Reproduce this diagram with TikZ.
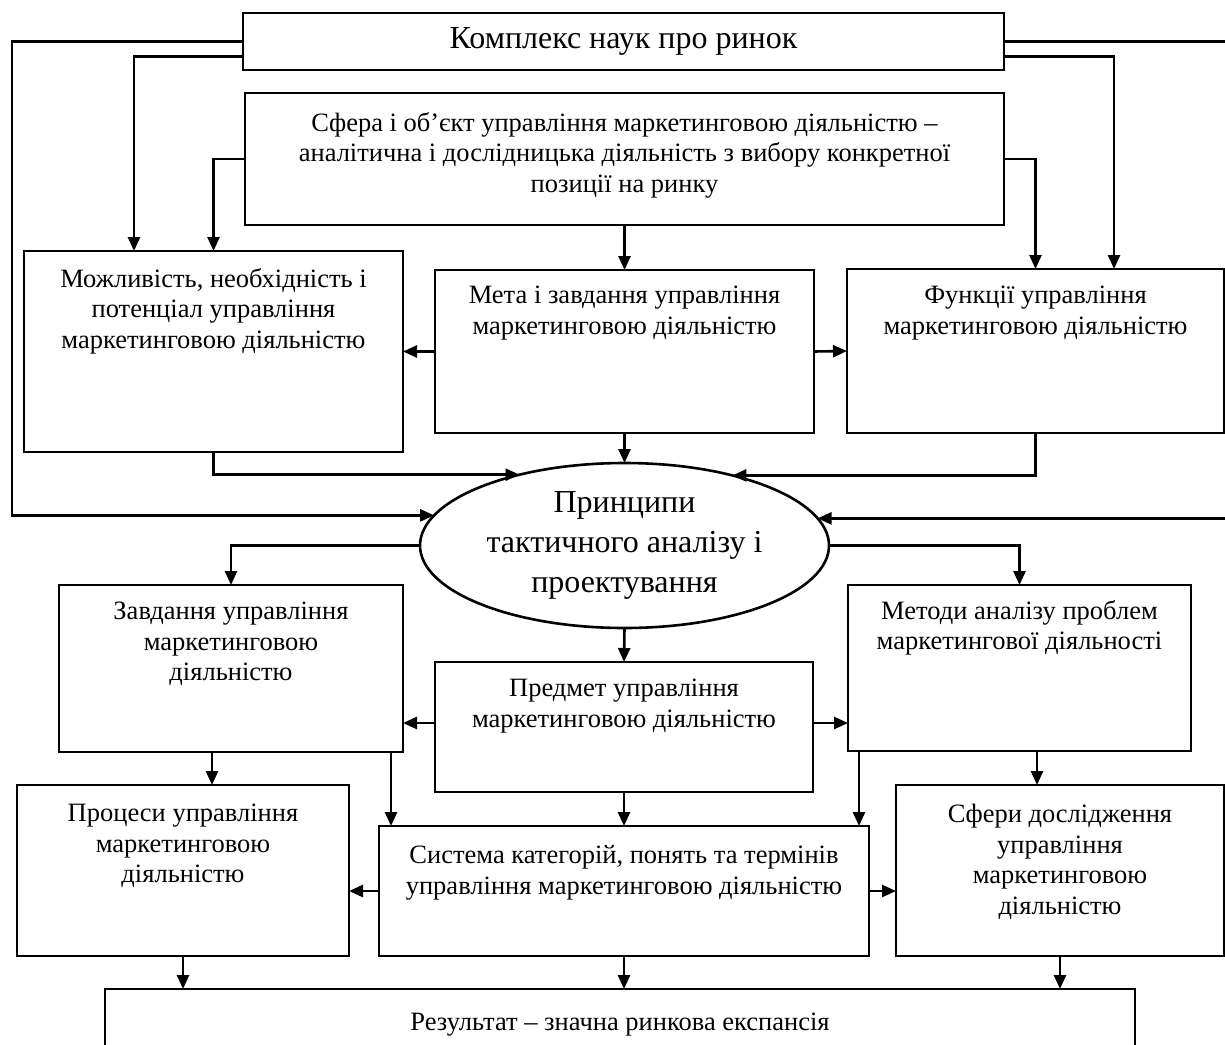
\documentclass[tikz,border=0pt]{standalone}
\usepackage{fontspec}
\setmainfont{Liberation Serif}
\usetikzlibrary{arrows.meta,shapes.geometric}
\begin{document}
\begin{tikzpicture}[x=1pt,y=-1pt,
  box/.style={draw, line width=2.6pt, inner sep=0pt, outer sep=0pt},
  txt/.style={align=center, inner sep=0pt, font=\fontsize{26.5}{30.5}\selectfont},
  con/.style={line width=2.6pt},
  arr/.style={line width=2.6pt, -{Triangle[length=14pt,width=12pt]}}]
\useasboundingbox (0,0) rectangle (1225,1044);
\clip (0,0) rectangle (1225,1044);
% boxes
\node[box, minimum width=761pt, minimum height=57pt, font=\fontsize{32}{37}\selectfont] (top) at (623.5,41.5) {Комплекс наук про ринок};
\node[box, minimum width=759pt, minimum height=132pt] (sfera) at (624.5,159) {};
\node[txt] (sferat) at (624.5,155) {Сфера і об’єкт управління маркетинговою діяльністю –\\аналітична і дослідницька діяльність з вибору конкретної\\позиції на ринку};
\node[box, minimum width=379pt, minimum height=201pt] (mozh) at (213.5,351.5) {};
\node[txt] (mozht) at (213.5,311) {Можливість, необхідність і\\потенціал управління\\маркетинговою діяльністю};
\node[box, minimum width=379pt, minimum height=163pt] (meta) at (624.5,351.5) {};
\node[txt] (metat) at (624.5,313) {Мета і завдання управління\\маркетинговою діяльністю};
\node[box, minimum width=377pt, minimum height=164pt] (funk) at (1035.5,351) {};
\node[txt] (funkt) at (1035.5,313) {Функції управління\\маркетинговою діяльністю};
\node[box, ellipse, minimum width=409pt, minimum height=165pt, align=center, font=\fontsize{32}{40}\selectfont] (ell) at (624.5,545.5) {Принципи\\тактичного аналізу і\\проектування};
\node[box, minimum width=344pt, minimum height=167pt] (zavd) at (231,668.5) {};
\node[txt] (zavdt) at (231,644) {Завдання управління\\маркетинговою\\діяльністю};
\node[box, minimum width=378pt, minimum height=130pt] (predm) at (624,727) {};
\node[txt] (predmt) at (624,706) {Предмет управління\\маркетинговою діяльністю};
\node[box, minimum width=343pt, minimum height=166pt] (metod) at (1019.5,668) {};
\node[txt] (metodt) at (1019.5,628) {Методи аналізу проблем\\маркетингової діяльності};
\node[box, minimum width=332pt, minimum height=171pt] (proc) at (183,870.5) {};
\node[txt] (proct) at (183,846) {Процеси управління\\маркетинговою\\діяльністю};
\node[box, minimum width=490pt, minimum height=130pt] (syst) at (624,891) {};
\node[txt] (systt) at (624,873) {Система категорій, понять та термінів\\управління маркетинговою діяльністю};
\node[box, minimum width=328pt, minimum height=171pt] (sfery) at (1060,870.5) {};
\node[txt] (sferyt) at (1060,862) {Сфери дослідження\\управління\\маркетинговою\\діяльністю};
\node[box, minimum width=1030pt, minimum height=82pt] (rez) at (620,1030) {};
\node[txt] (rezt) at (620,1025) {Результат – значна ринкова експансія};
% connectors
\draw[arr] (top.west) -- ++(-231,0) |- (ell.171.9);
\draw[arr] (top.east) -- ++(240,0) |- (ell.8.1);
\draw[arr] ([yshift=-15pt]top.west) -| ([xshift=-79.5pt]mozh.north);
\draw[arr] ([yshift=-15pt]top.east) -| ([xshift=78.5pt]funk.north);
\draw[arr] (sfera.west) -| (mozh.north);
\draw[arr] (sfera.east) -| (funk.north);
\draw[arr] (sfera.south) -- (meta.north);
\draw[arr] (meta.west) -- (mozh.east);
\draw[arr] (meta.east) -- (funk.west);
\draw[arr] (meta.south) -- (ell.north);
\draw[arr] (mozh.south) |- (ell.146.4);
\draw[arr] (funk.south) |- (ell.33.6);
\draw[arr] (ell.west) -| (zavd.north);
\draw[arr] (ell.east) -| (metod.north);
\draw[arr] (ell.south) -- (predm.north);
\draw[arr] ([yshift=4pt]predm.west) -- ([yshift=4pt]predm.west -| zavd.east);
\draw[arr] ([yshift=4pt]predm.east) -- ([yshift=4pt]predm.east -| metod.west);
\draw[arr] ([xshift=-19pt]zavd.south) -- ([xshift=-19pt]zavd.south |- proc.north);
\draw[arr] ([xshift=160pt]zavd.south) -- ([xshift=160pt]zavd.south |- syst.north);
\draw[arr] (predm.south) -- (syst.north);
\draw[arr] ([xshift=-160.5pt]metod.south) -- ([xshift=-160.5pt]metod.south |- syst.north);
\draw[arr] ([xshift=17.5pt]metod.south) -- ([xshift=17.5pt]metod.south |- sfery.north);
\draw[arr] (syst.west) -- (syst.west -| proc.east);
\draw[arr] (syst.east) -- (syst.east -| sfery.west);
\draw[arr] (proc.south) -- (proc.south |- rez.north);
\draw[arr] (syst.south) -- (syst.south |- rez.north);
\draw[arr] (sfery.south) -- (sfery.south |- rez.north);
\end{tikzpicture}
\end{document}
